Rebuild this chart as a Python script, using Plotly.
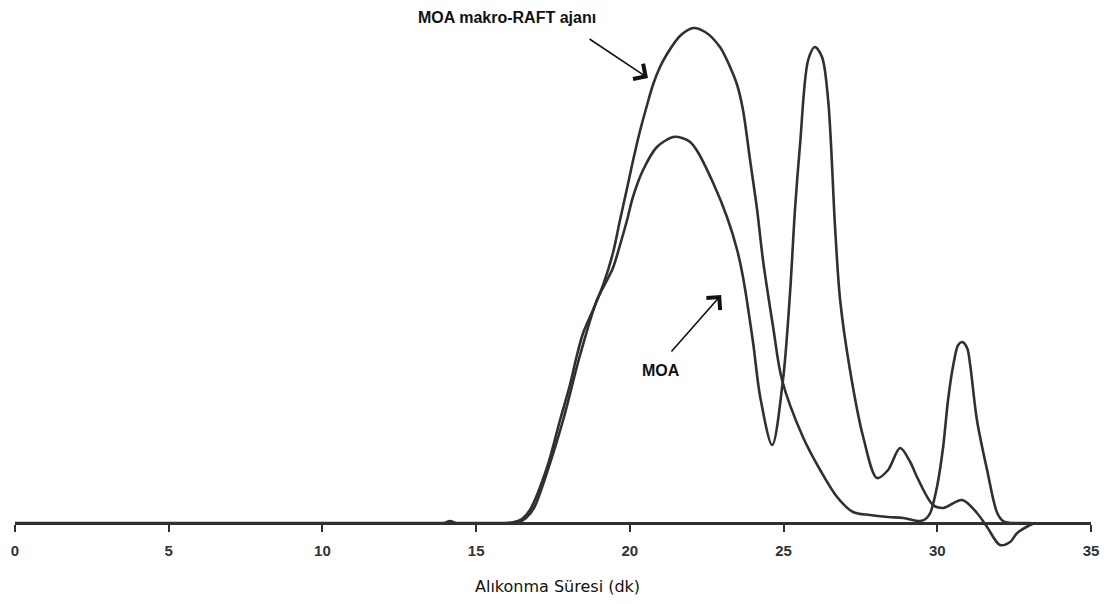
import plotly.graph_objects as go

# Retention time (min) and detector response (arbitrary units)
raft_time = [0, 5, 10, 13.8, 13.95, 14.15, 14.35, 14.5, 15.5, 15.94, 16.23, 16.49, 16.75, 17.31,
             17.73, 18.05, 18.28, 18.48, 18.80, 19.13, 19.45, 19.68, 19.91, 20.10, 20.33, 20.56,
             20.75, 20.98, 21.21, 21.63, 22.06, 22.45, 22.93, 23.26, 23.49, 23.68, 23.91, 24.14,
             24.33, 24.66, 24.95, 25.63, 26.19, 26.74, 27.26, 27.81, 28.40, 28.89, 29.44, 29.62,
             29.77, 29.99, 30.19, 30.35, 30.52, 30.68, 30.81, 30.97, 31.07, 31.29, 31.62, 31.95,
             32.14, 32.40, 32.79, 33.02]
raft_signal = [0, 0, 0, 0, 0, 2, 0, 0, 0, 0, 1, 4, 13, 56,
               103, 138, 168, 190, 213, 238, 270, 303, 335, 362, 392, 418,
               438, 456, 469, 487, 495, 491, 476, 456, 438, 413, 363, 313,
               263, 196, 143, 86, 53, 26, 11, 8, 6, 5, 2, 4,
               10, 36, 76, 123, 158, 178, 181, 175, 158, 103, 53, 10,
               2, 0, 0, 0]

moa_time = [16.36, 16.62, 16.88, 17.31, 17.83, 18.38, 18.93, 19.26, 19.45, 19.68, 19.91, 20.10,
            20.43, 20.88, 21.41, 21.70, 21.96, 22.19, 22.71, 23.16, 23.49, 23.68, 24.01, 24.24,
            24.63, 24.98, 25.21, 25.37, 25.54, 25.80, 26.02, 26.25, 26.45, 26.68, 26.84, 27.16,
            27.59, 28.04, 28.40, 28.79, 29.12, 29.34, 29.86, 30.19, 30.81, 31.29, 31.62, 32.04,
            32.37, 32.60, 33.02, 33.18]
moa_signal = [0, 5, 15, 51, 103, 168, 223, 243, 255, 278, 303, 326,
              353, 376, 386, 385, 381, 372, 340, 306, 273, 246, 180, 126,
              78, 143, 230, 313, 380, 463, 476, 466, 423, 293, 223, 153,
              86, 45, 53, 75, 61, 46, 18, 15, 23, 10, -4, -22,
              -19, -10, -2, 0]

x_ticks = [0, 5, 10, 15, 20, 25, 30, 35]
x_title = "Alıkonma Süresi (dk)"
label_raft = "MOA makro-RAFT ajanı"
label_moa = "MOA"

line_col = "#303030"

fig = go.Figure()
fig.add_trace(go.Scatter(x=raft_time, y=raft_signal, mode="lines",
                         line=dict(color=line_col, width=2.6, shape="spline", smoothing=0.9),
                         hoverinfo="skip"))
fig.add_trace(go.Scatter(x=moa_time, y=moa_signal, mode="lines",
                         line=dict(color=line_col, width=2.6, shape="spline", smoothing=0.9),
                         hoverinfo="skip"))

annotations = [
    dict(x=16.0, y=506, xref="x", yref="y", text=label_raft, showarrow=False,
         font=dict(family="Liberation Sans, Arial", size=16, color="#111", weight="bold")),
    dict(x=21.0, y=153, xref="x", yref="y", text=label_moa, showarrow=False,
         font=dict(family="Liberation Sans, Arial", size=16, color="#111", weight="bold")),
    dict(x=17.66, y=-63, xref="x", yref="y", text=x_title, showarrow=False,
         font=dict(family="DejaVu Sans", size=16, color="#111")),
    # arrows
    dict(x=20.59, y=445, xref="x", yref="y", ax=18.64, ay=485, axref="x", ayref="y",
         text="", showarrow=True, arrowhead=4, arrowsize=2.2, arrowwidth=1.6,
         arrowcolor="#111", standoff=0),
    dict(x=22.97, y=228, xref="x", yref="y", ax=21.31, ay=170, axref="x", ayref="y",
         text="", showarrow=True, arrowhead=4, arrowsize=2.2, arrowwidth=1.6,
         arrowcolor="#111", standoff=0),
]

fig.update_layout(
    width=1104, height=596,
    margin=dict(l=7, r=21, t=0, b=0),
    paper_bgcolor="white", plot_bgcolor="white",
    showlegend=False, hovermode=False,
    annotations=annotations,
    xaxis=dict(range=[0, 35], tickvals=x_ticks, ticktext=[str(v) for v in x_ticks],
               showgrid=False, zeroline=False, showline=True, linecolor=line_col, linewidth=2.6,
               ticks="outside", ticklen=7, tickwidth=2, tickcolor=line_col,
               anchor="free", position=81 / 596, ticklabelstandoff=6,
               tickfont=dict(family="Liberation Sans, Arial", size=15, color="#333", weight="bold"),
               fixedrange=True),
    yaxis=dict(range=[-81, 515], visible=False, showgrid=False, zeroline=False, fixedrange=True),
)

fig.write_html("out.html")
